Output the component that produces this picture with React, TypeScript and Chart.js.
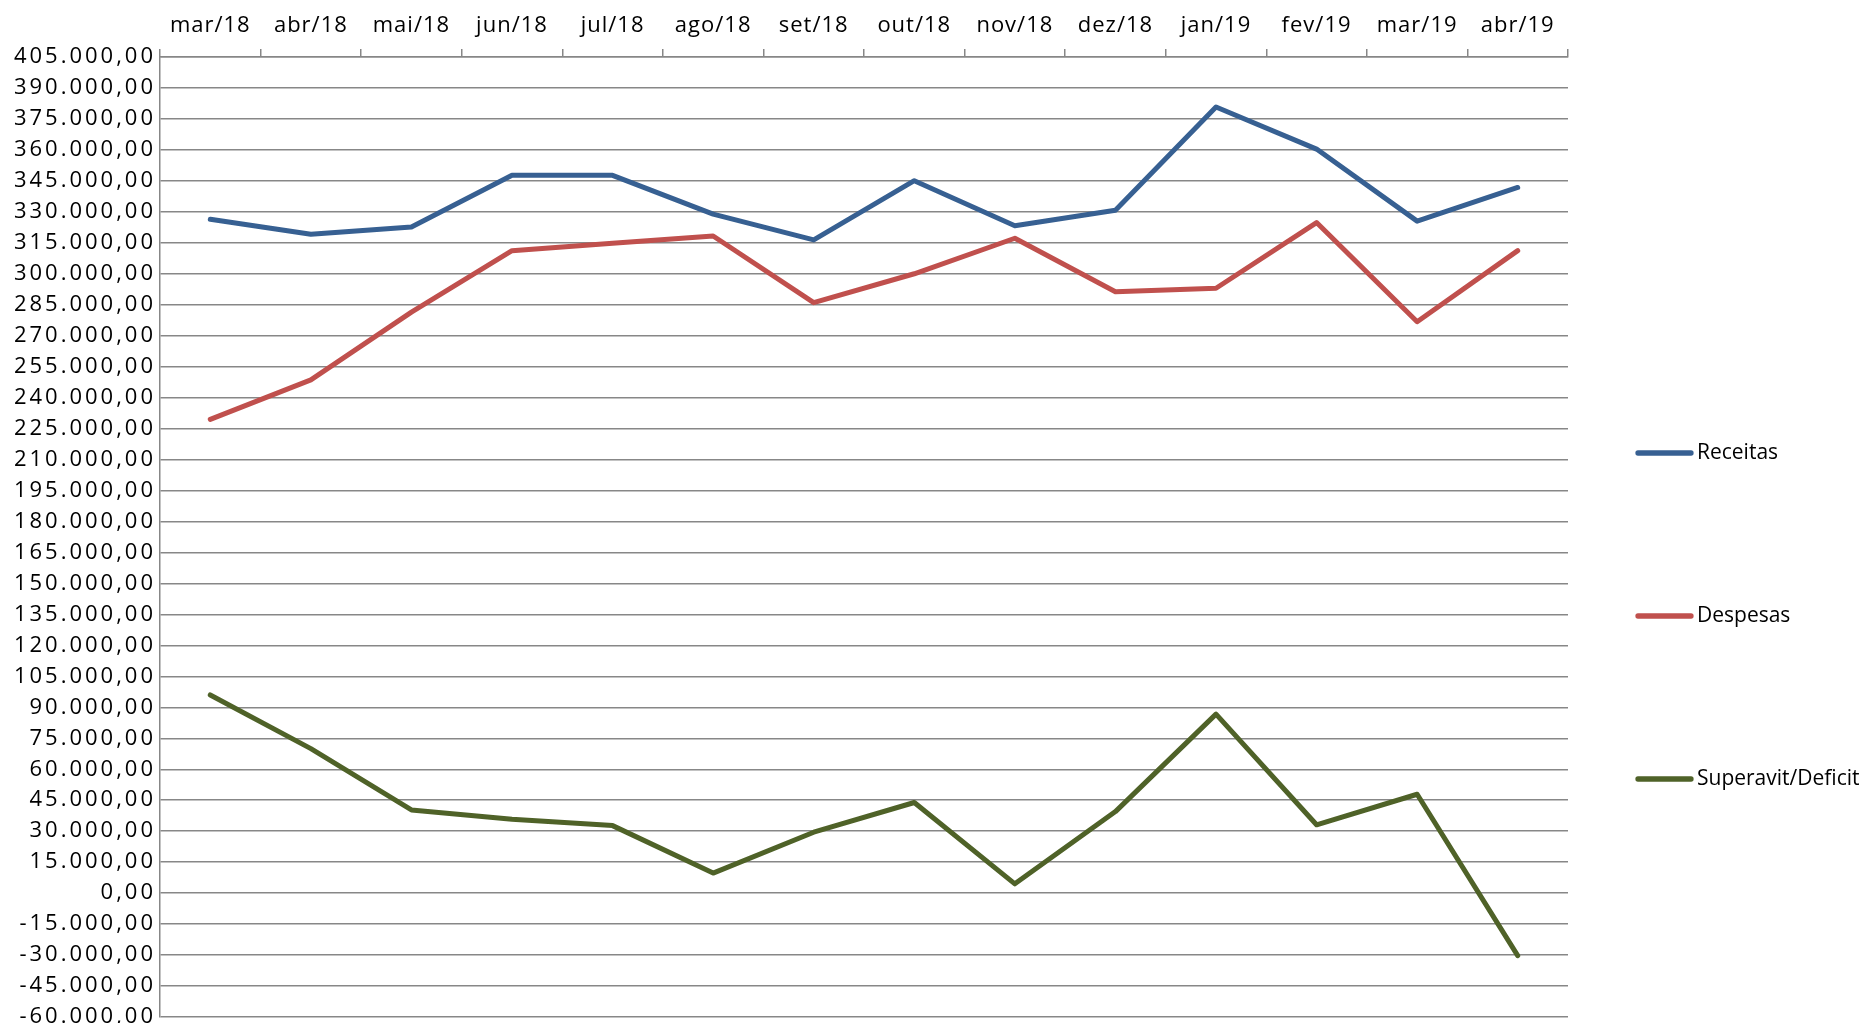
import React, { useEffect, useRef } from "react";
import { Chart, registerables } from "chart.js";

Chart.register(...registerables);

const categories = [
  "mar/18", "abr/18", "mai/18", "jun/18", "jul/18", "ago/18", "set/18",
  "out/18", "nov/18", "dez/18", "jan/19", "fev/19", "mar/19", "abr/19",
];

const receitas = [326400, 319100, 322700, 347700, 347700, 328900, 316400, 345100, 323300, 330800, 380800, 360400, 325500, 341800];
const despesas = [229500, 248600, 281400, 311200, 314800, 318300, 286000, 300000, 317200, 291300, 293000, 324800, 276800, 311200];
const superavit = [96000, 70000, 40300, 35800, 32700, 9700, 29500, 43900, 4500, 39500, 86700, 33100, 47900, -30300];

const seriesLabels = ["Receitas", "Despesas", "Superavit/Deficit"];
const seriesColors = ["#376092", "#C0504D", "#4F6228"];

const yMin = -60000;
const yMax = 405000;
const yStep = 15000;

const FONT_FAMILY = "'Open Sans', sans-serif";
const FONT_SIZE = 22;
const LEGEND_FONT_SIZE = 21;
const GRID = "#878787";

function fmtBR(v: number): string {
  const neg = v < 0;
  const abs = Math.abs(v);
  const intPart = Math.floor(abs);
  const dec = Math.round((abs - intPart) * 100);
  const s = String(intPart).replace(/\B(?=(\d{3})+(?!\d))/g, ".");
  return (neg ? "-" : "") + s + "," + String(dec).padStart(2, "0");
}

function setSpacing(ctx: any, px: number) {
  if ("letterSpacing" in ctx) ctx.letterSpacing = px + "px";
}

const spacingPlugin = {
  id: "labelSpacing",
  beforeDraw(chart: any) {
    setSpacing(chart.ctx, 1);
  },
  beforeDatasetsDraw(chart: any) {
    setSpacing(chart.ctx, 0);
  },
  afterDatasetsDraw(chart: any) {
    setSpacing(chart.ctx, 3);
  },
  afterDraw(chart: any) {
    setSpacing(chart.ctx, 0);
  },
};

const legendPlugin = {
  id: "sideLegend",
  afterDraw(chart: any) {
    const ctx = chart.ctx as CanvasRenderingContext2D;
    ctx.save();
    setSpacing(ctx, 0);
    chart.data.datasets.forEach((ds: any, i: number) => {
      const y = 445 + i * 163;
      ctx.beginPath();
      ctx.strokeStyle = ds.borderColor;
      ctx.lineWidth = 5.3;
      ctx.lineCap = "round";
      ctx.moveTo(1630, y);
      ctx.lineTo(1683, y);
      ctx.stroke();
      ctx.fillStyle = "#000";
      ctx.font = `${LEGEND_FONT_SIZE}px ${FONT_FAMILY}`;
      ctx.textBaseline = "middle";
      ctx.textAlign = "left";
      ctx.fillText(ds.label, 1689, y);
    });
    ctx.restore();
  },
};

export default function App() {
  const ref = useRef<HTMLCanvasElement | null>(null);

  useEffect(() => {
    if (!ref.current) return;
    const series = [receitas, despesas, superavit];
    const chart = new Chart(ref.current, {
      type: "line",
      data: {
        labels: categories,
        datasets: series.map((d, i) => ({
          label: seriesLabels[i],
          data: d,
          borderColor: seriesColors[i],
          backgroundColor: seriesColors[i],
          borderWidth: 5,
          pointRadius: 0,
          pointHoverRadius: 0,
          tension: 0,
          fill: false,
          borderCapStyle: "round" as const,
          borderJoinStyle: "round" as const,
        })),
      },
      options: {
        responsive: false,
        animation: false,
        events: [],
        layout: { padding: { top: 0, right: 302, bottom: 14, left: 0 } },
        plugins: {
          legend: { display: false },
          tooltip: { enabled: false },
          title: { display: false },
        },
        scales: {
          x: {
            type: "category",
            position: "top",
            offset: true,
            grid: {
              display: true,
              drawOnChartArea: false,
              drawTicks: true,
              tickLength: 8,
              color: GRID,
              lineWidth: 1.5,
              offset: true,
            },
            border: { display: true, color: GRID, width: 1.5 },
            ticks: {
              color: "#000",
              font: { family: FONT_FAMILY, size: FONT_SIZE },
              padding: 10,
              maxRotation: 0,
              autoSkip: false,
            },
            afterFit: (s: any) => {
              s.height = 49;
            },
          },
          y: {
            type: "linear",
            min: yMin,
            max: yMax,
            ticks: {
              stepSize: yStep,
              color: "#000",
              font: { family: FONT_FAMILY, size: FONT_SIZE },
              padding: 4,
              callback: (v: any) => fmtBR(Number(v)),
              autoSkip: false,
              z: 1,
            },
            grid: {
              color: GRID,
              lineWidth: 1.5,
              drawTicks: false,
            },
            border: { display: true, color: GRID, width: 1.5 },
            afterFit: (s: any) => {
              s.width = 152;
              s.paddingTop = 0;
              s.paddingBottom = 0;
            },
          },
        },
      },
      plugins: [spacingPlugin, legendPlugin],
    });
    return () => chart.destroy();
  }, []);

  return (
    <canvas
      ref={ref}
      width={1862}
      height={1023}
      style={{ display: "block", width: 1862, height: 1023, marginBottom: -8, marginRight: -8 }}
    />
  );
}
